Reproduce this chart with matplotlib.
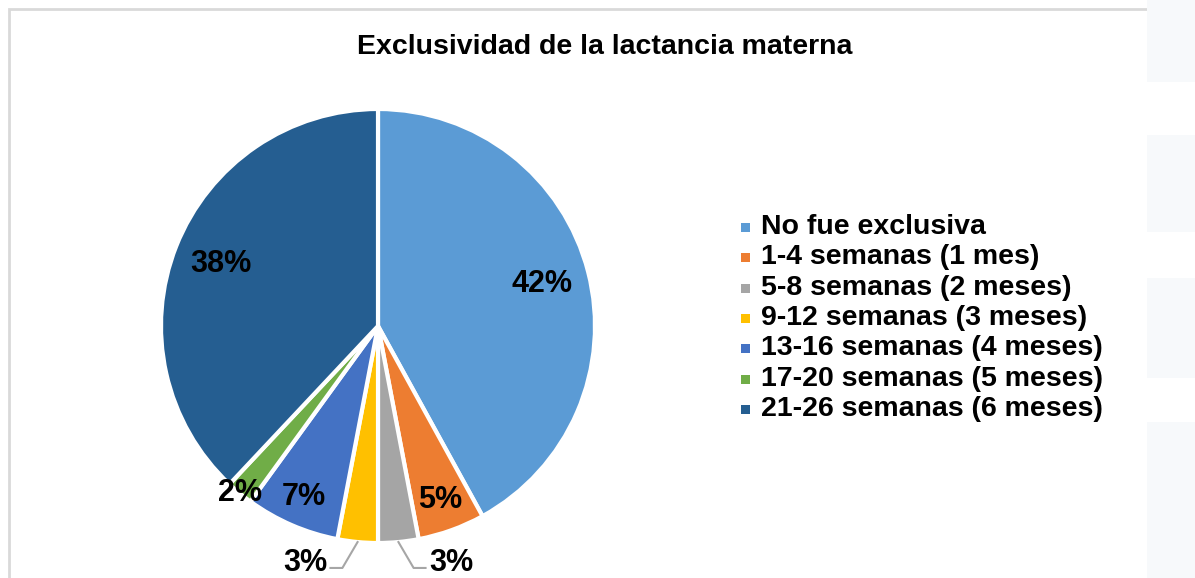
import numpy as np
import matplotlib
matplotlib.use('Agg')
import matplotlib.pyplot as plt
from matplotlib.patches import Rectangle

plt.rcParams['font.family'] = ['Liberation Sans', 'DejaVu Sans']

# data
categorias = ['No fue exclusiva', '1-4 semanas (1 mes)', '5-8 semanas (2 meses)',
              '9-12 semanas (3 meses)', '13-16 semanas (4 meses)',
              '17-20 semanas (5 meses)', '21-26 semanas (6 meses)']
valores = [42, 5, 3, 3, 7, 2, 38]
colores = ['#5B9BD5', '#ED7D31', '#A5A5A5', '#FFC000', '#4472C4', '#70AD47', '#255E91']
titulo = 'Exclusividad de la lactancia materna'

W, H = 1195, 578
fig = plt.figure(figsize=(W / 100, H / 100), dpi=100)
fig.patch.set_facecolor('white')

# chart frame (light grey border, top and left visible)
fig.patches.append(Rectangle((9 / W, -0.1), 1.2, 1 - 9 / H + 0.1, transform=fig.transFigure,
                             facecolor='white', edgecolor='#D9D9D9', linewidth=2, zorder=-2))
# faint slide background on the right
for y0, y1 in [(0, 82), (135, 232), (278, 378), (422, 578)]:
    fig.patches.append(Rectangle((1147 / W, 1 - y1 / H), 1, (y1 - y0) / H,
                                 transform=fig.transFigure, facecolor='#F7F9FB',
                                 edgecolor='none', zorder=-1))

cx, cy, r = 378, 326, 217
ax = fig.add_axes([(cx - r) / W, 1 - (cy + r) / H, 2 * r / W, 2 * r / H])
ax.set_zorder(2)
ax.patch.set_visible(False)
wedges, _ = ax.pie(valores, colors=colores, startangle=90, counterclock=False,
                   wedgeprops=dict(edgecolor='white', linewidth=3))
ax.set_xlim(-1, 1)
ax.set_ylim(-1, 1)
ax.set_axis_off()

# label distances (fraction of radius) for in-pie labels
dist = [0.78, 0.85, None, None, 0.86, 1.0, 0.78]
total = sum(valores)
acum = np.cumsum([0] + valores)
for i, v in enumerate(valores):
    mid = np.deg2rad(90 - 360 * (acum[i] + v / 2) / total)
    txt = f'{v}%'
    if dist[i] is not None:
        ax.text(dist[i] * np.cos(mid), dist[i] * np.sin(mid), txt, ha='center', va='center',
                fontsize=22, fontweight='bold', color='black')
    else:
        # small slices: label below the pie with a leader line
        ex, ey = np.cos(mid), np.sin(mid)
        side = 1 if ex > 0 else -1
        ly = -1.115
        bx = ex + side * 0.07
        tx = bx + side * 0.055
        ax.plot([ex, bx, tx], [ey, ly, ly], color='#A6A6A6', lw=1.5, clip_on=False)
        ax.text(tx + side * 0.015, ly + 0.022, txt, ha='left' if side > 0 else 'right',
                va='center', fontsize=22, fontweight='bold', color='black')

fig.text(605 / W, 1 - 47 / H, titulo, ha='center', va='center', fontsize=20.5,
         fontweight='bold', color='black')

# legend
y0, paso = 227, 30.3
for i, (cat, col) in enumerate(zip(categorias, colores)):
    y = y0 + i * paso
    fig.patches.append(Rectangle((741 / W, 1 - (y + 5) / H), 9 / W, 9 / H,
                                 transform=fig.transFigure, facecolor=col,
                                 edgecolor='none', zorder=3))
    fig.text(761 / W, 1 - y / H, cat, ha='left', va='center', fontsize=20.5,
             fontweight='bold', color='black')

fig.savefig('out.png', dpi=100)
